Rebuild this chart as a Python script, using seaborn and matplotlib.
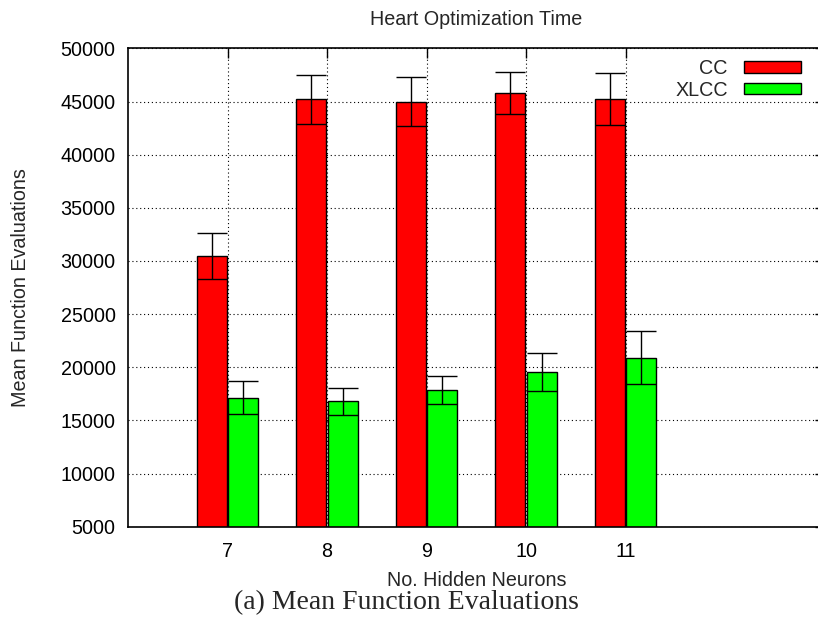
import numpy as np
import pandas as pd
import matplotlib
matplotlib.use("Agg")
import matplotlib.pyplot as plt
from matplotlib.patches import Patch
import seaborn as sns

# values
neurons = [7, 8, 9, 10, 11]
cc_mean = [30450, 45200, 45000, 45780, 45250]
cc_err = [2170, 2300, 2320, 2000, 2450]
xlcc_mean = [17120, 16800, 17850, 19580, 20900]
xlcc_err = [1550, 1250, 1350, 1780, 2500]
methods = ["CC", "XLCC"]
colors = ["#ff0000", "#00ff00"]

df = pd.DataFrame({
    "neurons": neurons * 2,
    "value": cc_mean + xlcc_mean,
    "method": ["CC"] * len(neurons) + ["XLCC"] * len(neurons),
})

sns.set_style("white")
plt.rcParams["font.family"] = ["Liberation Sans", "DejaVu Sans"]
fs = 14.2

fig = plt.figure(figsize=(8.18, 6.2), dpi=100)
ax = fig.add_axes([0.1565, 0.1505, 0.8515, 0.7715])

sns.barplot(
    data=df, x="neurons", y="value", hue="method",
    hue_order=methods, palette=colors, native_scale=True,
    width=0.63, gap=0.05, errorbar=None,
    edgecolor="black", linewidth=1.0, saturation=1, ax=ax, legend=False,
    zorder=2,
)

# error bars at the bar centres
for cont, errs in zip(ax.containers, [cc_err, xlcc_err]):
    xs = [b.get_x() + b.get_width() / 2 for b in cont]
    ys = [b.get_y() + b.get_height() for b in cont]
    ax.errorbar(xs, ys, yerr=errs, fmt="none", ecolor="black",
                elinewidth=1.0, capsize=10.5, capthick=1.0, zorder=3)

ax.set_xlim(6, 13)
ax.set_ylim(5000, 50000)
ax.set_xticks(neurons)
ax.set_xticklabels([str(n) for n in neurons])
ax.set_yticks(range(5000, 50001, 5000))

ax.grid(True, linestyle=(0, (1, 2.5)), color="black", linewidth=0.8, zorder=0)
ax.set_axisbelow(True)

for s in ["left", "bottom", "top", "right"]:
    ax.spines[s].set_color("black")
    ax.spines[s].set_linewidth(1.2)

ax.tick_params(axis="both", direction="in", length=7, width=1, labelsize=fs,
               colors="black")
ax.tick_params(axis="x", top=True, pad=11)
ax.tick_params(axis="y", right=True, pad=9)

ax.set_xlabel("No. Hidden Neurons", fontsize=fs, labelpad=7)
ax.set_ylabel("Mean Function Evaluations", fontsize=fs, labelpad=22)
ax.set_title("Heart Optimization Time", fontsize=fs, pad=17)

handles = [Patch(facecolor=c, edgecolor="black", linewidth=1.0) for c in colors]
ax.legend(handles, methods, loc="upper right", bbox_to_anchor=(0.966, 0.978),
          markerfirst=False, frameon=False, fontsize=fs, handlelength=2.9,
          handleheight=0.5, labelspacing=0.15, borderpad=0, handletextpad=0.8,
          borderaxespad=0)

fig.text(0.497, 0.018, "(a) Mean Function Evaluations", ha="center",
         va="baseline", fontsize=20,
         family=["Liberation Serif", "DejaVu Serif"])

fig.savefig("out.png", dpi=100)
